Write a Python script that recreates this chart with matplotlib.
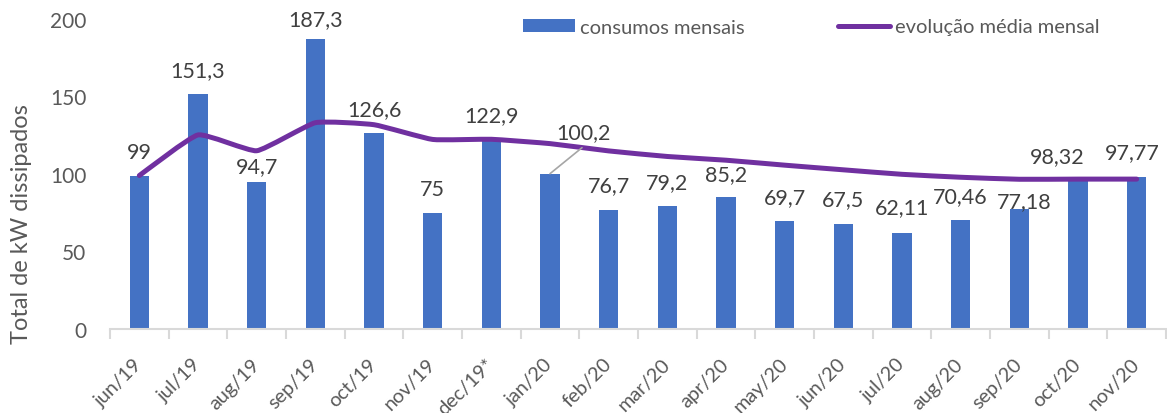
import matplotlib
matplotlib.use("Agg")
import matplotlib.pyplot as plt
from matplotlib.path import Path
from matplotlib.patches import PathPatch, Patch
from matplotlib.lines import Line2D

plt.rcParams['font.family'] = ['Lato', 'DejaVu Sans']

months = ["jun/19", "jul/19", "aug/19", "sep/19", "oct/19", "nov/19", "dec/19*",
          "jan/20", "feb/20", "mar/20", "apr/20", "may/20", "jun/20", "jul/20",
          "aug/20", "sep/20", "oct/20", "nov/20"]
consumos = [99, 151.3, 94.7, 187.3, 126.6, 75, 122.9, 100.2, 76.7, 79.2, 85.2,
            69.7, 67.5, 62.11, 70.46, 77.18, 98.32, 97.77]
value_labels = ["99", "151,3", "94,7", "187,3", "126,6", "75", "122,9", "100,2",
                "76,7", "79,2", "85,2", "69,7", "67,5", "62,11", "70,46", "77,18",
                "98,32", "97,77"]
media = [99, 125.2, 115.0, 133.1, 131.8, 122.3, 122.4, 119.6, 114.9, 111.3,
         108.9, 105.7, 102.7, 99.8, 97.9, 96.6, 96.7, 96.7]

# label offsets from bar top (pixels)
label_dy = [24, 24, 16, 20, 24, 24, 23, 42, 25, 24, 23, 24, 25, 26, 24, 8, 21, 25]
label_dx = [0, 0, 0, 0, 0, 0, 0, 33, 0, 0, 0, 0, 0, 0, 0, 5, -21, -4]

BLUE = "#4472C4"
PURPLE = "#7030A0"
TXT = "#404040"
TICK = "#595959"

fig = plt.figure(figsize=(11.67, 4.14), dpi=100)
ax = fig.add_axes([110 / 1167, 1 - 330 / 414, 1056 / 1167, 310 / 414])

x = list(range(len(months)))
ax.bar(x, consumos, width=0.33, color=BLUE, zorder=2)

# smoothed line, low tension like excel's
verts = [(x[0], media[0])]
codes = [Path.MOVETO]
n = len(x)
k = 1 / 14
for i in range(n - 1):
    p0 = (x[i - 1], media[i - 1]) if i > 0 else (x[i], media[i])
    p1 = (x[i], media[i])
    p2 = (x[i + 1], media[i + 1])
    p3 = (x[i + 2], media[i + 2]) if i + 2 < n else p2
    c1 = (p1[0] + (p2[0] - p0[0]) * k, p1[1] + (p2[1] - p0[1]) * k)
    c2 = (p2[0] - (p3[0] - p1[0]) * k, p2[1] - (p3[1] - p1[1]) * k)
    verts += [c1, c2, p2]
    codes += [Path.CURVE4] * 3
ax.add_patch(PathPatch(Path(verts, codes), facecolor="none", edgecolor=PURPLE,
                       lw=3.6, capstyle="round", joinstyle="round", zorder=3))

for i, (v, lab) in enumerate(zip(consumos, value_labels)):
    ax.annotate(lab, (i, v), xytext=(label_dx[i], label_dy[i]),
                textcoords="offset pixels", ha="center", va="center",
                fontsize=15.5, color=TXT, zorder=4, annotation_clip=False)

# leader line for jan/20
ax.annotate("", (7, consumos[7]), xytext=(32, 26), textcoords="offset pixels",
            arrowprops=dict(arrowstyle="-", color="#A6A6A6", lw=1.2,
                            shrinkA=0, shrinkB=0))

ax.set_xlim(-0.5, len(months) - 0.5)
ax.set_ylim(0, 200)
ax.set_yticks([0, 50, 100, 150, 200])
ax.tick_params(axis="y", length=0, labelsize=15, labelcolor=TICK, pad=17)
ax.set_xticks(x)
ax.set_xticklabels(months, rotation=45, ha="right", va="center",
                   rotation_mode="anchor", fontsize=14.3, color=TICK)
ax.tick_params(axis="x", length=0, pad=23)
ax.set_xticks([i + 0.5 for i in range(-1, len(months))], minor=True)
ax.tick_params(axis="x", which="minor", length=7, width=1.5, color="#D9D9D9")

for s in ["top", "right", "left"]:
    ax.spines[s].set_visible(False)
ax.spines["bottom"].set_color("#D9D9D9")
ax.spines["bottom"].set_linewidth(1.5)

ax.set_ylabel("Total de kW dissipados", fontsize=17, color=TICK)
ax.yaxis.set_label_coords(-0.074, 0.342)

handles = [Patch(facecolor=BLUE, edgecolor="none"),
           Line2D([0], [0], color=PURPLE, lw=3.6, solid_capstyle="round")]
fig.legend(handles, ["consumos mensais", "evolução média mensal"],
           loc="center left", bbox_to_anchor=(523 / 1167, 1 - 28 / 414),
           ncol=2, frameon=False, fontsize=14.5, labelcolor=TICK,
           handlelength=2.6, handleheight=0.6, handletextpad=0.25,
           columnspacing=4.6, borderaxespad=0, borderpad=0)

fig.savefig("out.png", dpi=100)
